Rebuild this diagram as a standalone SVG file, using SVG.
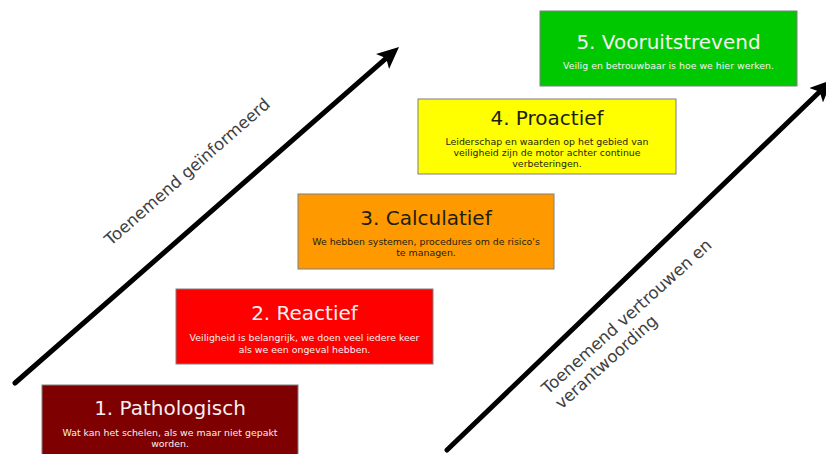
<svg xmlns="http://www.w3.org/2000/svg" width="826" height="454" viewBox="0 0 826 454">
<style>
.box{stroke:#7f7f7f;stroke-width:1}
.title{font-family:"DejaVu Sans",Verdana,sans-serif;font-size:20px;text-anchor:middle}
.desc{font-family:"DejaVu Sans",Verdana,sans-serif;font-size:9.4px;text-anchor:middle}
.light{fill:#f4f0f0}
.dark{fill:#1e1e10}
.axis{font-family:"DejaVu Sans",Verdana,sans-serif;font-size:16.6px;fill:#404040}
.arrow{stroke:#000;stroke-width:5;fill:none;stroke-linecap:round}
</style>
<defs>
<marker id="head" markerUnits="userSpaceOnUse" viewBox="0 0 22 20" markerWidth="22" markerHeight="20" refX="10" refY="10" orient="auto">
<path d="M0,0 L22,10 L0,20 L5,10 Z" fill="#000"/>
</marker>
</defs>
<rect width="826" height="454" fill="#fff"/>
<g id="connectors">
<line class="arrow" x1="15" y1="383" x2="390" y2="54.9" marker-end="url(#head)"/>
<line class="arrow" x1="447" y1="450" x2="823.3" y2="88.3" marker-end="url(#head)"/>
</g>
<g id="label-informed">
<text class="axis" text-anchor="middle" transform="translate(191,176) rotate(-41.2)">Toenemend geïnformeerd</text>
</g>
<g id="label-trust">
<text class="axis" transform="translate(548,395) rotate(-42)"><tspan x="0" y="0">Toenemend vertrouwen en</tspan><tspan x="0" y="20">verantwoording</tspan></text>
</g>
<g id="node1">
<rect class="box" x="42" y="385" width="256" height="75" fill="#7f0000"/>
<text class="title light" x="170" y="415">1. Pathologisch</text>
<text class="desc light" x="170" y="436">Wat kan het schelen, als we maar niet gepakt</text>
<text class="desc light" x="170" y="447">worden.</text>
</g>
<g id="node2">
<rect class="box" x="176" y="289" width="257" height="75" fill="#ff0000"/>
<text class="title light" x="304.5" y="320">2. Reactief</text>
<text class="desc light" x="304.5" y="341">Veiligheid is belangrijk, we doen veel iedere keer</text>
<text class="desc light" x="304.5" y="353">als we een ongeval hebben.</text>
</g>
<g id="node3">
<rect class="box" x="298" y="194" width="256" height="75" fill="#ff9900"/>
<text class="title dark" x="426" y="225">3. Calculatief</text>
<text class="desc dark" x="426" y="245">We hebben systemen, procedures om de risico's</text>
<text class="desc dark" x="426" y="256">te managen.</text>
</g>
<g id="node4">
<rect class="box" x="418" y="99" width="258" height="75" fill="#ffff00"/>
<text class="title dark" x="547" y="125">4. Proactief</text>
<text class="desc dark" x="547" y="145">Leiderschap en waarden op het gebied van</text>
<text class="desc dark" x="547" y="156">veiligheid zijn de motor achter continue</text>
<text class="desc dark" x="547" y="167">verbeteringen.</text>
</g>
<g id="node5">
<rect class="box" x="540" y="11" width="257" height="75" fill="#00c800"/>
<text class="title light" x="668.5" y="49">5. Vooruitstrevend</text>
<text class="desc light" x="668.5" y="69">Veilig en betrouwbaar is hoe we hier werken.</text>
</g>
</svg>
